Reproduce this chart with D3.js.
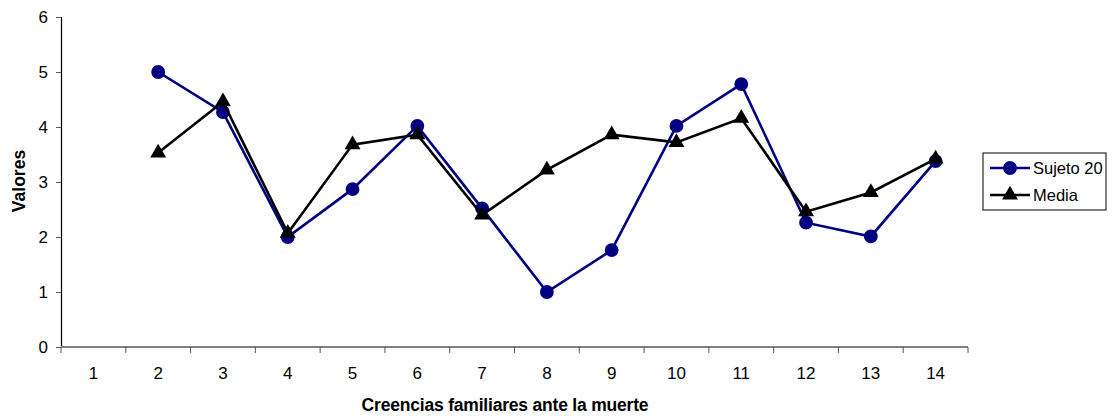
<!DOCTYPE html>
<html>
<head>
<meta charset="utf-8">
<script src="https://cdn.jsdelivr.net/npm/d3@7"></script>
<style>
  body { margin: 0; background: #fff; }
  svg { font-family: "Liberation Sans", Arial, sans-serif; }
</style>
</head>
<body>
<svg></svg>
<script>
// categories on the x axis
const categories = ['1', '2', '3', '4', '5', '6', '7', '8', '9', '10', '11', '12', '13', '14'];
// Sujeto 20 (no value for category 1)
const sujeto = [null, 5, 4.27, 2, 2.87, 4.02, 2.52, 1, 1.76, 4.02, 4.78, 2.26, 2.01, 3.38];
// Media
const media = [null, 3.53, 4.46, 2.07, 3.68, 3.86, 2.4, 3.22, 3.86, 3.72, 4.16, 2.46, 2.81, 3.42];
const yTicks = [0, 1, 2, 3, 4, 5, 6];

const W = 1115, H = 419;
const M = {top: 17, left: 61, right: 147, bottom: 72};

const svg = d3.select('svg').attr('width', W).attr('height', H);

const x = d3.scaleBand().domain(categories).range([M.left, W - M.right]);
const y = d3.scaleLinear().domain([0, 6]).range([H - M.bottom, M.top]);

/* ---- axes ---- */
const yAxis = svg.append('g')
    .attr('transform', `translate(${M.left},0)`)
    .call(d3.axisLeft(y).tickValues(yTicks).tickFormat(d3.format('d')).tickSize(5).tickPadding(8));
yAxis.select('.domain').attr('stroke', '#000').attr('stroke-width', 1.2);
yAxis.selectAll('.tick line').attr('stroke', '#555');
yAxis.selectAll('.tick text').attr('font-size', 17).attr('fill', '#000');

const xAxis = svg.append('g')
    .attr('transform', `translate(0,${y(0)})`);
xAxis.append('line')
    .attr('x1', M.left).attr('x2', W - M.right)
    .attr('stroke', '#808080').attr('stroke-width', 2);
// tick marks sit on the band edges
const edges = categories.map(c => x(c)).concat([x(categories[categories.length - 1]) + x.bandwidth()]);
xAxis.selectAll('.edge').data(edges).enter().append('line')
    .attr('class', 'edge')
    .attr('x1', d => d).attr('x2', d => d)
    .attr('y1', 0).attr('y2', 6)
    .attr('stroke', '#555').attr('stroke-width', 1);
xAxis.selectAll('.lbl').data(categories).enter().append('text')
    .attr('class', 'lbl')
    .attr('x', d => x(d) + x.bandwidth() / 2)
    .attr('y', 32)
    .attr('text-anchor', 'middle')
    .attr('font-size', 17)
    .text(d => d);

// axis titles
svg.append('text')
    .attr('x', 505)
    .attr('y', 411)
    .attr('text-anchor', 'middle')
    .attr('font-size', 17.5).attr('font-weight', 'bold')
    .attr('letter-spacing', -0.2)
    .text('Creencias familiares ante la muerte');
svg.append('text')
    .attr('transform', `translate(24.5,181) rotate(-90)`)
    .attr('text-anchor', 'middle')
    .attr('font-size', 17.5).attr('font-weight', 'bold')
    .text('Valores');

/* ---- series ---- */
const cx = i => x(categories[i]) + x.bandwidth() / 2;
const line = d3.line()
    .defined(d => d.v !== null)
    .x(d => cx(d.i))
    .y(d => y(d.v));

const series = [
  {name: 'Sujeto 20', values: sujeto, color: '#000080', symbol: d3.symbolCircle, size: 150},
  {name: 'Media', values: media, color: '#000000', symbol: d3.symbolTriangle, size: 110}
];

series.forEach(s => {
  const pts = s.values.map((v, i) => ({v, i}));
  svg.append('path')
      .datum(pts)
      .attr('fill', 'none')
      .attr('stroke', s.color)
      .attr('stroke-width', 2.6)
      .attr('d', line);
  svg.selectAll(null).data(pts.filter(d => d.v !== null)).enter().append('path')
      .attr('transform', d => `translate(${cx(d.i)},${y(d.v)})`)
      .attr('d', d3.symbol().type(s.symbol).size(s.size))
      .attr('fill', s.color);
});

/* ---- legend ---- */
const lg = svg.append('g').attr('transform', 'translate(983,153)');
lg.append('rect')
    .attr('width', 123).attr('height', 57)
    .attr('fill', '#fff').attr('stroke', '#000').attr('stroke-width', 1);
series.forEach((s, i) => {
  const ly = 15 + i * 27;
  lg.append('line')
      .attr('x1', 7).attr('x2', 47)
      .attr('y1', ly).attr('y2', ly)
      .attr('stroke', s.color).attr('stroke-width', 2.6);
  lg.append('path')
      .attr('transform', `translate(27,${ly})`)
      .attr('d', d3.symbol().type(s.symbol).size(s.size))
      .attr('fill', s.color);
  lg.append('text')
      .attr('x', 50).attr('y', ly + 6)
      .attr('font-size', 16.5)
      .text(s.name);
});
</script>
</body>
</html>
